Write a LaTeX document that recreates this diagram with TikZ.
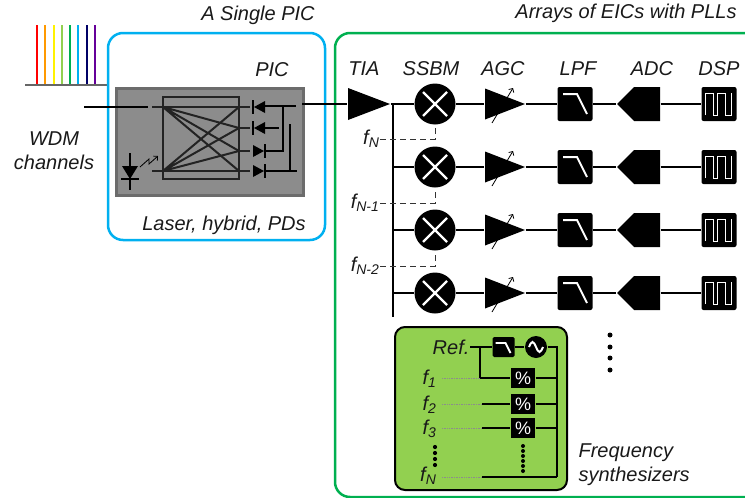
\documentclass[tikz,border=0pt]{standalone}
\usepackage{fontspec}
\setmainfont{Liberation Sans}
\usetikzlibrary{shapes.symbols,arrows.meta}
\definecolor{picblue}{RGB}{0,176,240}
\definecolor{eicgreen}{RGB}{0,176,80}
\definecolor{synthgreen}{RGB}{146,208,80}
\definecolor{picgray}{RGB}{140,140,140}
\definecolor{picedge}{RGB}{108,108,108}
\definecolor{wire}{RGB}{35,35,35}
\newcommand{\lab}{\fontsize{20}{24}\selectfont\itshape}
\newcommand{\ppb}{path picture bounding box}
\newcommand{\pdl}[1]{\fill (254,#1) -- (265,#1-6) -- (265,#1+6) -- cycle; \draw[line width=2pt] (253,#1-7) -- (253,#1+7);}
\newcommand{\pdr}[1]{\fill (253,#1-6) -- (264,#1) -- (253,#1+6) -- cycle; \draw[line width=2pt] (265,#1-7) -- (265,#1+7);}
\tikzset{
  lbl/.style={font=\lab, inner sep=0, text=black!90},
  tia/.style={minimum width=42pt, minimum height=32pt, inner sep=0,
    path picture={\fill (\ppb.north west) -- (\ppb.east) -- (\ppb.south west) -- cycle;}},
  agc/.style={tia, minimum width=40pt, minimum height=31pt},
  mixer/.style={circle, fill=black, minimum size=41pt, inner sep=0,
    path picture={\draw[white, line width=2.2pt] ([shift={(-12pt,-12pt)}]\ppb.center) -- ([shift={(12pt,12pt)}]\ppb.center)
      ([shift={(-12pt,12pt)}]\ppb.center) -- ([shift={(12pt,-12pt)}]\ppb.center);}},
  lpf/.style={fill=black, rounded corners=2pt, minimum width=35pt, minimum height=34pt, inner sep=0,
    path picture={\draw[white, line width=2pt, sharp corners] ([shift={(-12pt,10pt)}]\ppb.center) -- ++(14pt,0pt) -- ++(10pt,-20pt);}},
  adc/.style={signal, signal to=west, fill=black, minimum width=43pt, minimum height=34pt, inner sep=0},
  dsp/.style={fill=black, rounded corners=2pt, minimum width=35pt, minimum height=34pt, inner sep=0,
    path picture={\draw[white, line width=0.9pt, sharp corners] ([shift={(-14pt,-11pt)}]\ppb.center) -- ++(0pt,22pt) -- ++(8pt,0pt)
      -- ++(0pt,-22pt) -- ++(4pt,0pt) -- ++(0pt,22pt) -- ++(8pt,0pt) -- ++(0pt,-22pt) -- ++(6pt,0pt) -- ++(0pt,22pt);}},
  gainarrow/.style={-{Straight Barb[length=3pt,width=6pt]}, line width=0.8pt},
  fline/.style={dashed, dash pattern=on 6pt off 4pt, line width=0.8pt, black!80},
  slpf/.style={fill=black, rounded corners=1.5pt, minimum width=22pt, minimum height=20pt, inner sep=0,
    path picture={\draw[white, line width=1.8pt, sharp corners] ([shift={(-8pt,4pt)}]\ppb.center) -- ++(10pt,0pt) -- ++(5pt,-10pt);}},
  osc/.style={circle, fill=black, minimum size=22pt, inner sep=0,
    path picture={\draw[white, line width=2pt] ([shift={(-7pt,0pt)}]\ppb.center) sin ++(3.5pt,5pt) cos ++(3.5pt,-5pt) sin ++(3.5pt,-5pt) cos ++(3.5pt,5pt);}},
  pct/.style={fill=black, minimum width=24pt, minimum height=20pt, inner sep=0, text=white, font=\fontsize{18}{18}\selectfont},
  dotline/.style={densely dotted, line width=0.7pt, black!45},
  hyb/.style={wire, line width=2pt},
}
\begin{document}
\begin{tikzpicture}[x=1pt,y=-1pt, line width=1.2pt]
\useasboundingbox (0,0) rectangle (745,498);
% WDM spectrum
\draw[red, line width=2pt] (37,25) -- (37,85);
\draw[orange!80!yellow, line width=2pt] (45,25) -- (45,85);
\draw[yellow, line width=2pt] (54,25) -- (54,85);
\draw[synthgreen, line width=2pt] (62,25) -- (62,85);
\draw[eicgreen, line width=2pt] (70,25) -- (70,85);
\draw[picblue, line width=2pt] (78,25) -- (78,85);
\draw[blue!40!black, line width=2pt] (87,25) -- (87,85);
\draw[violet!80!blue, line width=2pt] (95,25) -- (95,85);
\draw[gray!80!black, line width=1.5pt] (25,85) -- (108,85);
% outer boxes
\draw[picblue, line width=2.5pt, rounded corners=15pt] (108,33) rectangle (325,240);
\draw[eicgreen, line width=2.5pt, rounded corners=15pt] (335,33) rectangle (775,497);
\node[lbl] (single) at (258,15) {A Single PIC};
\node[lbl] (arrays) at (626,13) {Arrays of EICs with PLLs};
\node[lbl] (pic) at (272,70) {PIC};
\node[lbl] (lhp) at (224,225) {Laser, hybrid, PDs};
\node[lbl, align=center] (wdm) at (54,151) {WDM\\channels};
% PIC
\node[draw=picedge, fill=picgray, line width=3pt, minimum width=187pt, minimum height=107pt, inner sep=0] (chip) at (210,142) {};
\node[draw=wire, line width=2pt, minimum width=76pt, minimum height=82pt, inner sep=0] (H) at (201,138) {};
\coordinate (hi1) at (163,107);
\coordinate (hi2) at (163,171);
\coordinate (ho1) at (239,107);
\coordinate (ho2) at (239,128);
\coordinate (ho3) at (239,151);
\coordinate (ho4) at (239,171);
\draw[hyb] (152,107) -- (250,107);
\draw[hyb] (152,171) -- (250,171);
\draw[hyb] (hi1) -- (ho2) (hi1) -- (ho3) (hi1) -- (ho4);
\draw[hyb] (hi2) -- (ho1) (hi2) -- (ho2) (hi2) -- (ho3);
\draw[hyb] (ho2) -- (250,128) (ho3) -- (250,151);
\coordinate (win) at (84,107);
\draw[line width=2pt] (win) -- (148,107);
\pdl{107} \pdl{128} \pdr{151} \pdr{171}
\draw[line width=2pt] (265,106) -- (296,106) (283,106) -- (283,151) -- (265,151);
\draw[line width=2pt] (265,128) -- (279,128) (290,124) -- (290,171) (265,171) -- (297,171);
% laser
\draw[line width=2pt] (130,153) -- (130,190);
\fill (122,166) -- (138,166) -- (130,179) -- cycle;
\draw[line width=2pt] (121,179) -- (139,179);
\draw[-{Straight Barb[length=3pt]}, line width=0.8pt] (140,167) -- (149,159) -- (149,164) -- (158,156);
% EIC labels
\node[lbl] (tialab) at (364,69) {TIA};
\node[lbl] (ssbmlab) at (431,69) {SSBM};
\node[lbl] (agclab) at (503,69) {AGC};
\node[lbl] (lpflab) at (578,69) {LPF};
\node[lbl] (adclab) at (652,69) {ADC};
\node[lbl] (dsplab) at (719,69) {DSP};
% row 1
\coordinate (out) at (302,104);
\node[tia] (T) at (369,104) {};
\coordinate (b1) at (393,104);
\coordinate (bend) at (393,317);
\node[mixer] (M1) at (435,104) {};
\node[agc] (G1) at (505,104) {};
\node[lpf] (L1) at (575,104) {};
\node[adc] (A1) at (647,104) {};
\node[dsp] (D1) at (719,104) {};
\draw (out) -- (T.west);
\draw (T.east) -- (b1) -- (bend);
\draw (b1) -- (M1) -- (G1) -- (L1) -- (A1) -- (D1);
% row 2
\coordinate (b2) at (393,167);
\node[mixer] (M2) at (435,167) {};
\node[agc] (G2) at (505,167) {};
\node[lpf] (L2) at (575,167) {};
\node[adc] (A2) at (647,167) {};
\node[dsp] (D2) at (719,167) {};
\draw (b2) -- (M2) -- (G2) -- (L2) -- (A2) -- (D2);
% row 3
\coordinate (b3) at (393,230);
\node[mixer] (M3) at (435,230) {};
\node[agc] (G3) at (505,230) {};
\node[lpf] (L3) at (575,230) {};
\node[adc] (A3) at (647,230) {};
\node[dsp] (D3) at (719,230) {};
\draw (b3) -- (M3) -- (G3) -- (L3) -- (A3) -- (D3);
% row 4
\coordinate (b4) at (393,293);
\node[mixer] (M4) at (435,293) {};
\node[agc] (G4) at (505,293) {};
\node[lpf] (L4) at (575,293) {};
\node[adc] (A4) at (647,293) {};
\node[dsp] (D4) at (719,293) {};
\draw (b4) -- (M4) -- (G4) -- (L4) -- (A4) -- (D4);
% gain arrows
\draw[gainarrow] ([shift={(-13pt,-19pt)}]G1.center) -- ++(21pt,35pt);
\draw[gainarrow] ([shift={(-13pt,-19pt)}]G2.center) -- ++(21pt,35pt);
\draw[gainarrow] ([shift={(-13pt,-19pt)}]G3.center) -- ++(21pt,35pt);
\draw[gainarrow] ([shift={(-13pt,-19pt)}]G4.center) -- ++(21pt,35pt);
% LO lines
\node[lbl, anchor=east] (fN) at (380,139) {f\textsubscript{N}};
\node[lbl, anchor=east] (fN1) at (380,203) {f\textsubscript{N-1}};
\node[lbl, anchor=east] (fN2) at (380,266) {f\textsubscript{N-2}};
\draw[fline] (fN.east) -| (M1.south);
\draw[fline] (fN1.east) -| (M2.south);
\draw[fline] (fN2.east) -| (M3.south);
% synthesizer
\node[draw, fill=synthgreen, line width=2pt, rounded corners=10pt, minimum width=172pt, minimum height=163pt, inner sep=0] (S) at (481,408.5) {};
\node[lbl, anchor=east] (ref) at (470,347) {Ref.};
\node[slpf] (SL) at (503.5,347) {};
\node[osc] (O) at (536,347) {};
\coordinate (rb) at (480,347);
\coordinate (rb1) at (480,378);
\coordinate (sr) at (557,347);
\coordinate (sb) at (557,477);
\draw (ref.east) -- (SL.west);
\draw (SL) -- (O) -- (sr) -- (sb);
\node[pct] (P1) at (523,378) {\%};
\node[pct] (P2) at (523,404) {\%};
\node[pct] (P3) at (523,428) {\%};
\node[lbl, anchor=east] (f1) at (437,379) {f\textsubscript{1}};
\node[lbl, anchor=east] (f2) at (437,405) {f\textsubscript{2}};
\node[lbl, anchor=east] (f3) at (437,429) {f\textsubscript{3}};
\node[lbl, anchor=east] (fNs) at (437,476) {f\textsubscript{N}};
\coordinate (d1) at (442,378);
\coordinate (d2) at (442,404);
\coordinate (s2) at (482,404);
\coordinate (d3) at (442,428);
\coordinate (s3) at (482,428);
\coordinate (dN) at (442,477);
\coordinate (sN) at (482,477);
\draw (rb) -- (rb1) -- (P1);
\draw[dotline] (d1) -- (rb1);
\draw[dotline] (d2) -- (s2);
\draw[dotline] (d3) -- (s3);
\draw[dotline] (dN) -- (sN);
\draw (s2) -- (P2);
\draw (s3) -- (P3);
\draw (sN) -- (sb);
\draw (P1.east) -- (P1.east -| sr);
\draw (P2.east) -- (P2.east -| sr);
\draw (P3.east) -- (P3.east -| sr);
% dots
\fill (435,447) circle (2.1pt) (435,453) circle (2.1pt) (435,459) circle (2.1pt) (435,465) circle (2.1pt);
\fill (523,446) circle (2pt) (523,451) circle (2pt) (523,456) circle (2pt) (523,461) circle (2pt) (523,466) circle (2pt) (523,471) circle (2pt);
\fill (610,335) circle (2.5pt) (610,347) circle (2.5pt) (610,358) circle (2.5pt) (610,370) circle (2.5pt);
\node[lbl, anchor=west, align=left] (fs) at (578,465) {Frequency\\synthesizers};
\end{tikzpicture}
\end{document}
